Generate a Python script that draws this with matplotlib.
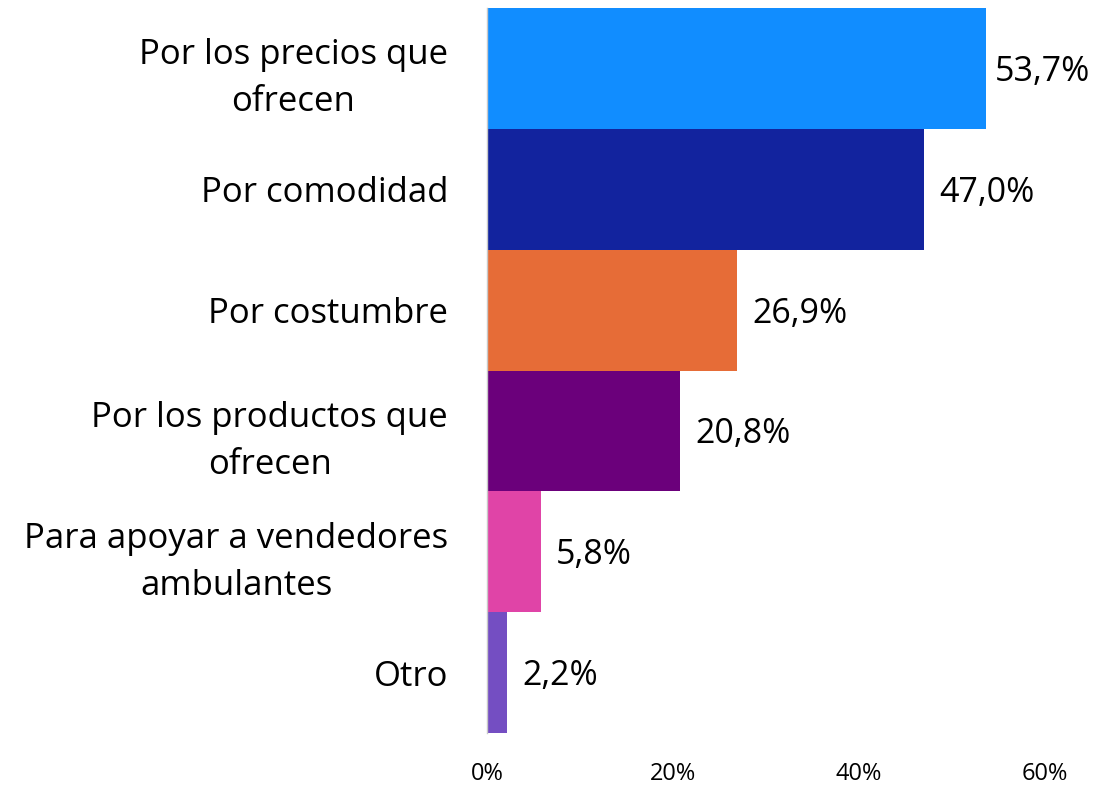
import matplotlib.pyplot as plt

# data
categories = [
    "Por los precios que\nofrecen",
    "Por comodidad",
    "Por costumbre",
    "Por los productos que\nofrecen",
    "Para apoyar a vendedores\nambulantes",
    "Otro",
]
values = [53.7, 47.0, 26.9, 20.8, 5.8, 2.2]
colors = ["#118DFF", "#12239E", "#E66C37", "#6B007B", "#E044A7", "#744EC2"]
ticks = [0, 20, 40, 60]

plt.rcParams["font.family"] = ["Open Sans", "DejaVu Sans"]

fig = plt.figure(figsize=(11.2, 7.85), dpi=100)
ax = fig.add_axes([487 / 1120, 1 - 733 / 785, (1045 - 487) / 1120, 725 / 785])

y = list(range(len(categories)))
ax.barh(y, values, height=1.0, color=colors)
ax.set_ylim(len(categories) - 0.5, -0.5)
ax.set_xlim(0, 60)

# value labels to the right of each bar
for i, v in enumerate(values):
    off = 6 if v > 50 else 11
    ax.annotate(f"{v:.1f}%".replace(".", ","), (v, i), xytext=(off, -2.5),
                textcoords="offset points", va="center", ha="left", fontsize=24.5)

ax.set_xticks(ticks)
ax.set_xticklabels([f"{t}%" for t in ticks], fontsize=17)
ax.tick_params(axis="x", length=0, pad=21)

ax.set_yticks(y)
ax.set_yticklabels(categories, fontsize=25, multialignment="center", linespacing=1.5)
ax.tick_params(axis="y", length=0, pad=28)

for side in ["top", "right", "bottom"]:
    ax.spines[side].set_visible(False)
ax.spines["left"].set_color("#C8C8C8")
ax.spines["left"].set_linewidth(1)

fig.savefig("out.png", dpi=100)
